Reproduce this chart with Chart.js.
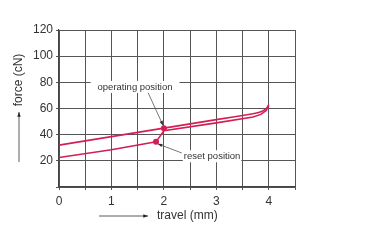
<!DOCTYPE html>
<html><head><meta charset="utf-8">
<script src="https://cdn.jsdelivr.net/npm/chart.js@4/dist/chart.umd.min.js"></script>
<style>html,body{margin:0;padding:0;background:#fff}#wrap{width:372px;height:240px}</style>
</head><body><div id="wrap"><canvas id="c" width="372" height="240"></canvas></div>
<script>
const operatingX = [0, 1, 2, 3, 3.7, 3.85, 3.95, 4];
const operatingY = [32, 38.5, 45, 51.5, 56, 57.5, 60, 63];
const resetX = [0, 1, 1.85, 2, 3, 3.7, 3.85, 3.95, 4];
const resetY = [22.5, 28.5, 34.5, 43, 49, 53.5, 55.5, 58.5, 62];
const markerX = [2, 1.85];
const markerY = [45, 34.5];
const xTicks = [0, 1, 2, 3, 4];
const yTicks = [20, 40, 60, 80, 100, 120];
const labels = ["operating position", "reset position"];

const pts = (xs, ys) => xs.map((x, i) => ({x, y: ys[i]}));
const RED = '#d21f55';
const FONT = '"Liberation Sans", Arial, sans-serif';

function arrow(ctx, x1, y1, x2, y2, size) {
  ctx.beginPath(); ctx.moveTo(x1, y1); ctx.lineTo(x2, y2); ctx.stroke();
  const a = Math.atan2(y2 - y1, x2 - x1);
  ctx.beginPath();
  ctx.moveTo(x2, y2);
  ctx.lineTo(x2 - size * Math.cos(a - 0.35), y2 - size * Math.sin(a - 0.35));
  ctx.lineTo(x2 - size * Math.cos(a + 0.35), y2 - size * Math.sin(a + 0.35));
  ctx.closePath(); ctx.fill();
}

const decor = {
  id: 'decor',
  afterDraw(chart) {
    const ctx = chart.ctx, xs = chart.scales.x, ys = chart.scales.y;
    ctx.save();
    ctx.font = '11px ' + FONT;
    ctx.fillStyle = '#333';
    // annotation labels
    ctx.textBaseline = 'middle';
    ctx.textAlign = 'center';
    ctx.fillStyle = '#fff';
    const t1 = ctx.measureText(labels[0]).width;
    const lx1 = xs.getPixelForValue(1.45), ly1 = ys.getPixelForValue(76.5);
    ctx.fillRect(lx1 - t1 / 2 - 1, ly1 - 6, t1 + 2, 12);
    ctx.fillStyle = '#333';
    ctx.font = '9.5px ' + FONT;
    ctx.fillText(labels[0], lx1, ly1);
    ctx.textAlign = 'left';
    const lx2 = xs.getPixelForValue(2.38), ly2 = ys.getPixelForValue(23.5);
    const t2 = ctx.measureText(labels[1]).width;
    ctx.fillStyle = '#fff';
    ctx.fillRect(lx2 - 1, ly2 - 6, t2 + 2, 12);
    ctx.fillStyle = '#333';
    ctx.fillText(labels[1], lx2, ly2);
    // annotation leader lines
    ctx.strokeStyle = '#555'; ctx.fillStyle = '#333'; ctx.lineWidth = 0.8;
    arrow(ctx, xs.getPixelForValue(1.7), ys.getPixelForValue(72), xs.getPixelForValue(1.985), ys.getPixelForValue(47), 5);
    arrow(ctx, xs.getPixelForValue(2.34), ys.getPixelForValue(26), xs.getPixelForValue(1.88), ys.getPixelForValue(33), 5);
    // axis titles
    ctx.fillStyle = '#333';
    ctx.font = '12px ' + FONT;
    ctx.textAlign = 'left'; ctx.textBaseline = 'middle';
    ctx.fillText('travel (mm)', 157, 216);
    ctx.strokeStyle = '#333'; ctx.fillStyle = '#222'; ctx.lineWidth = 0.8;
    arrow(ctx, 99, 216, 148, 216, 5);
    ctx.save();
    ctx.translate(19, 80);
    ctx.rotate(-Math.PI / 2);
    ctx.textAlign = 'center';
    ctx.fillStyle = '#333';
    ctx.fillText('force (cN)', 0, 0);
    ctx.restore();
    arrow(ctx, 19, 162, 19, 112, 5);
    ctx.restore();
  }
};

new Chart(document.getElementById('c'), {
  type: 'line',
  data: {
    datasets: [
      {data: pts(operatingX, operatingY), borderColor: RED, borderWidth: 1.6, pointRadius: 0, tension: 0.2, fill: false},
      {data: pts(resetX, resetY), borderColor: RED, borderWidth: 1.6, pointRadius: 0, tension: 0, fill: false},
      {data: pts(markerX, markerY), showLine: false, pointRadius: 3, pointBackgroundColor: RED, pointBorderColor: RED, pointBorderWidth: 0}
    ]
  },
  options: {
    responsive: false, animation: false, devicePixelRatio: 1,
    layout: {padding: {left: 0, right: 77, top: 30, bottom: 0}},
    plugins: {legend: {display: false}, tooltip: {enabled: false}},
    scales: {
      x: {
        type: 'linear', min: 0, max: 4.5,
        afterFit(s) { s.height = 53; },
        ticks: {stepSize: 0.5, autoSkip: false, maxRotation: 0, padding: 4,
          color: '#333', font: {family: FONT, size: 12},
          callback: v => xTicks.includes(v) ? String(v) : ''},
        grid: {color: '#555', lineWidth: 1, tickLength: 3, drawTicks: true},
        border: {color: '#444', width: 1.2}
      },
      y: {
        type: 'linear', min: 0, max: 120,
        afterFit(s) { s.width = 59; },
        ticks: {stepSize: 20, padding: 3, color: '#333', font: {family: FONT, size: 12},
          callback: v => yTicks.includes(v) ? String(v) : ''},
        grid: {color: '#555', lineWidth: 1, tickLength: 3},
        border: {color: '#444', width: 1.2}
      }
    }
  },
  plugins: [decor]
});
</script></body></html>
